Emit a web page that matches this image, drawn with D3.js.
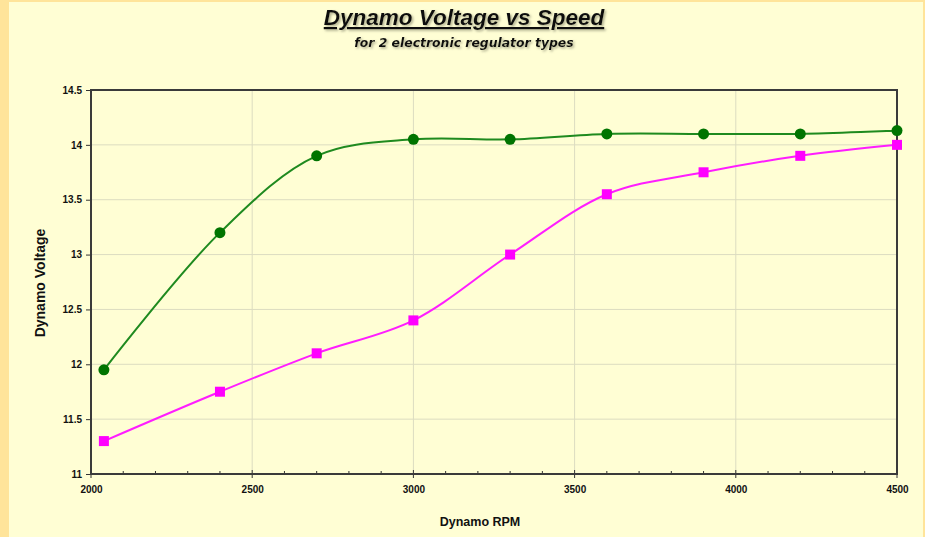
<!DOCTYPE html>
<html><head><meta charset="utf-8">
<script src="https://cdn.jsdelivr.net/npm/d3@7"></script>
<style>
html,body{margin:0;padding:0;background:#fffed4;}
svg{display:block;font-family:"Liberation Sans",Arial,sans-serif;}
</style></head>
<body><svg id="c" width="925" height="537"></svg>
<script>
const rpm = [2040, 2400, 2700, 3000, 3300, 3600, 3900, 4200, 4500];
const regulatorA = [11.95, 13.2, 13.9, 14.05, 14.05, 14.1, 14.1, 14.1, 14.13];
const regulatorB = [11.3, 11.75, 12.1, 12.4, 13.0, 13.55, 13.75, 13.9, 14.0];
const xTicks = [2000, 2500, 3000, 3500, 4000, 4500];
const yTicks = [11, 11.5, 12, 12.5, 13, 13.5, 14, 14.5];
const titleText = "Dynamo Voltage vs Speed";
const subtitleText = "for 2 electronic regulator types";
const xLabel = "Dynamo RPM";
const yLabel = "Dynamo Voltage";

const svg = d3.select("#c");
const W = 925, H = 537;
const m = {l: 91, r: 897, t: 90, b: 474};

const defs = svg.append("defs");
const f = defs.append("filter").attr("id","sh").attr("x","-10%").attr("y","-30%").attr("width","120%").attr("height","160%");
f.append("feDropShadow").attr("dx",1.5).attr("dy",1.5).attr("stdDeviation",0.8).attr("flood-color","#8a8a70").attr("flood-opacity",0.7);

// frame
svg.append("rect").attr("x",0).attr("y",0).attr("width",W).attr("height",H).attr("fill","#ffe49a");
svg.append("rect").attr("x",9).attr("y",2).attr("width",W-11).attr("height",H-2).attr("fill","#fffed4");

const x = d3.scaleLinear().domain([2000,4500]).range([m.l,m.r]);
const y = d3.scaleLinear().domain([11,14.5]).range([m.b,m.t]);

svg.append("rect").attr("x",m.l).attr("y",m.t).attr("width",m.r-m.l).attr("height",m.b-m.t).attr("fill","#fffed4");

// grid
const g = svg.append("g");
g.selectAll(".gy").data(yTicks.slice(1,-1)).join("line")
  .attr("x1",m.l).attr("x2",m.r).attr("y1",d=>y(d)).attr("y2",d=>y(d))
  .attr("stroke","#dcdcc0").attr("stroke-width",1);
g.selectAll(".gx").data(xTicks.slice(1,-1)).join("line")
  .attr("y1",m.t).attr("y2",m.b).attr("x1",d=>x(d)).attr("x2",d=>x(d))
  .attr("stroke","#dcdcc0").attr("stroke-width",1);

// axes
const xAxis = d3.axisBottom(x).tickValues(xTicks).tickSize(0).tickPadding(12).tickFormat(d3.format("d"));
const xa = svg.append("g").attr("transform",`translate(0,${m.b})`).call(xAxis);
xa.select(".domain").remove();
xa.selectAll("text").attr("font-size",10).attr("font-weight","bold").attr("fill","#111").attr("font-family","Liberation Sans, Arial, sans-serif");
// minor ticks
const minor = d3.range(2000,4501,100);
svg.append("g").selectAll("line").data(minor).join("line")
  .attr("x1",d=>x(d)).attr("x2",d=>x(d))
  .attr("y1",d=> d%500===0 ? m.b-4 : m.b-3).attr("y2",d=> d%500===0 ? m.b+4 : m.b)
  .attr("stroke","#333").attr("stroke-width",1);

const yAxis = d3.axisLeft(y).tickValues(yTicks).tickSize(5).tickPadding(4).tickFormat(d=>String(d));
const ya = svg.append("g").attr("transform",`translate(${m.l},0)`).call(yAxis);
ya.select(".domain").remove();
ya.selectAll("line").attr("stroke","#333");
ya.selectAll("text").attr("font-size",10).attr("font-weight","bold").attr("fill","#111").attr("font-family","Liberation Sans, Arial, sans-serif");

// plot border
svg.append("rect").attr("x",m.l).attr("y",m.t).attr("width",m.r-m.l).attr("height",m.b-m.t)
  .attr("fill","none").attr("stroke","#3a3a3a").attr("stroke-width",2);

// lines
const line = d3.line().x(d=>x(d[0])).y(d=>y(d[1])).curve(d3.curveCatmullRom.alpha(0.5));
const dA = rpm.map((r,i)=>[r,regulatorA[i]]);
const dB = rpm.map((r,i)=>[r,regulatorB[i]]);
svg.append("path").attr("d",line(dB)).attr("fill","none").attr("stroke","#ff1dff").attr("stroke-width",2);
svg.append("path").attr("d",line(dA)).attr("fill","none").attr("stroke","#1f8a1f").attr("stroke-width",2);
svg.append("g").selectAll("rect").data(dB).join("rect")
  .attr("x",d=>x(d[0])-5).attr("y",d=>y(d[1])-5).attr("width",10).attr("height",10).attr("fill","#ff00ff");
svg.append("g").selectAll("circle").data(dA).join("circle")
  .attr("cx",d=>x(d[0])).attr("cy",d=>y(d[1])).attr("r",5.5).attr("fill","#007400");

// titles
const cx = 464;
svg.append("text").attr("x",cx).attr("y",25).attr("text-anchor","middle")
  .attr("font-size",22.5).attr("font-weight","bold").attr("font-style","italic").attr("fill","#111")
  .attr("text-decoration","underline").attr("filter","url(#sh)").text(titleText);
svg.append("text").attr("x",cx).attr("y",47).attr("text-anchor","middle")
  .attr("font-family","DejaVu Sans, sans-serif")
  .attr("font-size",12.4).attr("font-weight","bold").attr("font-style","italic").attr("fill","#111")
  .attr("filter","url(#sh)").text(subtitleText);

svg.append("text").attr("x",480).attr("y",526).attr("text-anchor","middle")
  .attr("font-size",12.5).attr("font-weight","bold").attr("fill","#111").text(xLabel);
svg.append("text").attr("transform","translate(45,283) rotate(-90)").attr("text-anchor","middle")
  .attr("font-size",14).attr("font-weight","bold").attr("fill","#111").text(yLabel);
</script></body></html>
